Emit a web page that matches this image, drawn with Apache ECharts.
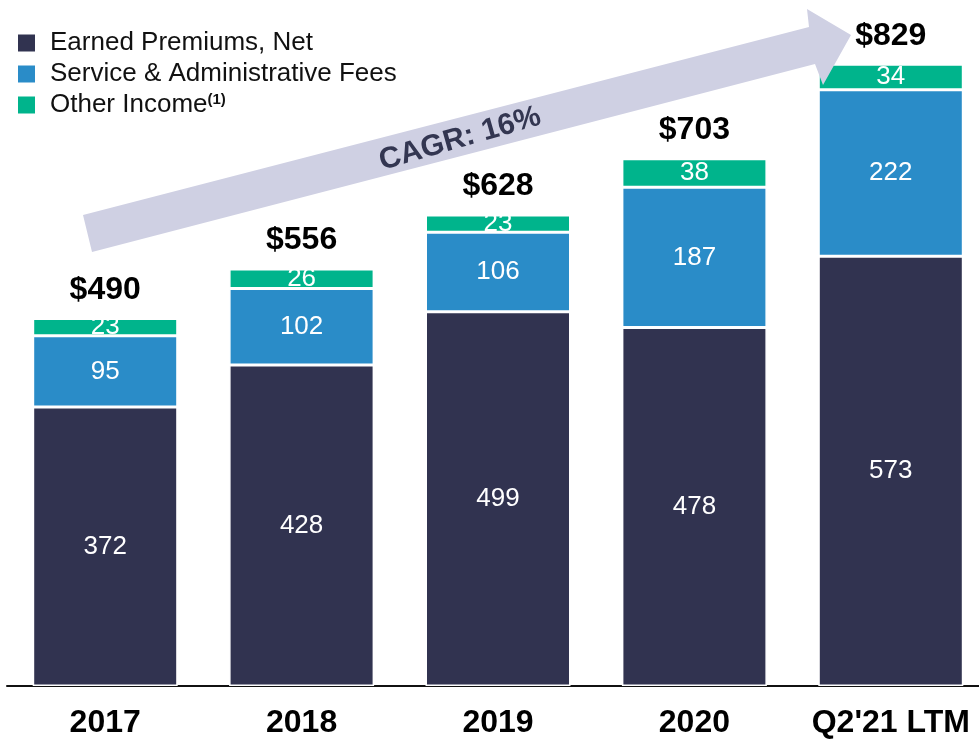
<!DOCTYPE html>
<html>
<head>
<meta charset="utf-8">
<script src="https://cdn.jsdelivr.net/npm/echarts@6/dist/echarts.min.js"></script>
<style>
  html, body { margin: 0; padding: 0; background: #fff; overflow: hidden; }
  /* a bit wider than the window so the last bar can sit flush at the edge */
  #chart { width: 990px; height: 739px; }
</style>
</head>
<body>
<div id="chart"></div>
<script>
// values ($M)
const years = ['2017', '2018', '2019', '2020', "Q2'21 LTM"]
const earnedPremiums = [372, 428, 499, 478, 573]
const serviceFees = [95, 102, 106, 187, 222]
const otherIncome = [23, 26, 23, 38, 34]
const totals = [490, 556, 628, 703, 829]

const seriesNames = ['Earned Premiums, Net', 'Service & Administrative Fees', 'Other Income']
const colors = ['#313350', '#2a8cc8', '#00b48c']

const chart = echarts.init(document.getElementById('chart'))

const inLabel = {
  show: true,
  position: 'inside',
  color: '#fff',
  fontSize: 26,
  fontFamily: 'Liberation Sans, Arial, sans-serif'
}

const makeBar = (name, data, color) => ({
  name: name,
  type: 'bar',
  stack: 'rev',
  data: data,
  barWidth: 145,
  itemStyle: { color: color, borderColor: '#fff', borderWidth: 1.5 },
  label: inLabel
})

const option = {
  animation: false,
  textStyle: { fontFamily: 'Liberation Sans, Arial, sans-serif' },
  grid: { left: 7, right: 1, top: 11, bottom: 53 },
  legend: {
    orient: 'vertical',
    left: 16,
    top: 30,
    padding: 0,
    icon: 'rect',
    itemWidth: 19,
    itemHeight: 19,
    itemGap: 5,
    data: seriesNames,
    formatter: function (name) {
      // superscript footnote on the last item
      if (name === 'Other Income') return '{t|Other Income}{s|(1)}'
      return '{t|' + name + '}'
    },
    textStyle: {
      rich: {
        t: { fontSize: 26, color: '#111', fontFamily: 'Liberation Sans, Arial, sans-serif', padding: [0, 0, 0, 9] },
        s: { fontSize: 15, lineHeight: 20, fontWeight: 'bold', color: '#111', verticalAlign: 'top', padding: [0, 0, 8, 0] }
      }
    }
  },
  xAxis: {
    type: 'category',
    data: years,
    axisTick: { show: false },
    axisLine: { lineStyle: { color: '#111', width: 2 } },
    axisLabel: {
      interval: 0,
      margin: 21,
      fontSize: 32,
      fontWeight: 'bold',
      color: '#000',
      fontFamily: 'Liberation Sans, Arial, sans-serif'
    }
  },
  yAxis: { type: 'value', min: 0, max: 900, show: false, splitLine: { show: false } },
  graphic: [
    {
      type: 'polygon',
      z: 5,
      shape: {
        points: [[92, 252], [83, 215], [809, 27], [807, 9], [851, 35], [823, 85], [815, 64]]
      },
      style: { fill: '#cfd0e3' }
    },
    {
      type: 'text',
      z: 6,
      x: 460,
      y: 139,
      rotation: 16 * Math.PI / 180,
      style: {
        text: 'CAGR: 16%',
        fill: '#333651',
        font: 'bold 30px "Liberation Sans", Arial, sans-serif',
        align: 'center',
        verticalAlign: 'middle'
      }
    }
  ],
  series: [
    makeBar(seriesNames[0], earnedPremiums, colors[0]),
    makeBar(seriesNames[1], serviceFees, colors[1]),
    makeBar(seriesNames[2], otherIncome, colors[2]),
    {
      // totals above each stack
      name: 'Total',
      type: 'line',
      data: totals,
      symbol: 'circle',
      symbolSize: 1,
      itemStyle: { color: 'rgba(0,0,0,0)' },
      z: 20,
      lineStyle: { width: 0, color: 'rgba(0,0,0,0)' },
      label: {
        show: true,
        position: 'top',
        distance: 12,
        formatter: p => '$' + p.value,
        fontSize: 32,
        fontWeight: 'bold',
        color: '#000',
        fontFamily: 'Liberation Sans, Arial, sans-serif'
      }
    }
  ]
}

chart.setOption(option)
</script>
</body>
</html>
